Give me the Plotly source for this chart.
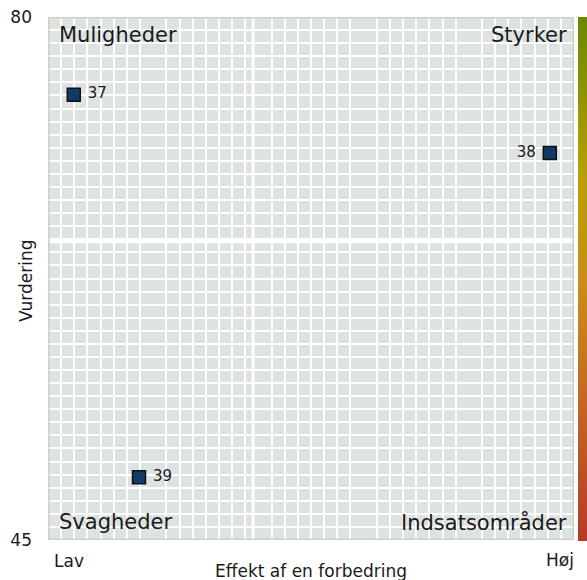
import plotly.graph_objects as go

# Items placed on the effect / rating matrix
item_ids = ["37", "38", "39"]
effect = [4.9, 95.4, 17.3]        # 0 = Lav, 100 = Høj
rating = [74.8, 70.9, 49.2]
label_side = ["middle right", "middle left", "middle right"]

# Axis settings
x_range = [0, 100]
y_range = [45, 80]
y_tick_vals = [45, 80]
x_mid = 39.0
y_mid = 65.0

quadrant_names = ["Muligheder", "Styrker", "Svagheder", "Indsatsområder"]
x_end_labels = ["Lav", "Høj"]
x_title = "Effekt af en forbedring"
y_title = "Vurdering"

# Colour ramp of the side bar, bottom (0) to top (1)
ramp = [[0.0, "#b83a27"], [0.28, "#c46a25"], [0.5, "#c8901a"],
        [0.7, "#b8a000"], [1.0, "#6a8800"]]

FONT = "DejaVu Sans"
TXT = "#1a1a1a"
BG = "#dde3e0"
W, H = 587, 580
ML, MR, MT, MB = 48, 0, 17, 40
PLOT_RIGHT = 574          # right edge of the matrix, in pixels
BAR_LEFT = 578            # left edge of the colour ramp, in pixels
pw = W - ML - MR
ph = H - MT - MB


def px_x(p):
    return (p - ML) / pw


def px_y(p):
    return 1 - (p - MT) / ph


x_dom_end = px_x(PLOT_RIGHT)


def dom_x(p):
    # paper fraction measured against the matrix width only
    return (p - ML) / (PLOT_RIGHT - ML) * x_dom_end


point_text = [(" " + t) if s.endswith("right") else (t + " ")
              for t, s in zip(item_ids, label_side)]

fig = go.Figure()

fig.add_trace(go.Scatter(
    x=effect, y=rating, mode="markers+text",
    text=point_text, textposition=label_side,
    textfont=dict(family=FONT, size=15, color=TXT),
    marker=dict(symbol="square", size=13, color="#123a66",
                line=dict(color="#111111", width=1.5)),
    hoverinfo="skip", showlegend=False, cliponaxis=False,
))

# Vertical colour ramp drawn as a colour bar
fig.add_trace(go.Scatter(
    x=[None], y=[None], mode="markers", showlegend=False, hoverinfo="skip",
    marker=dict(color=[0], cmin=0, cmax=1, colorscale=ramp, showscale=True,
                colorbar=dict(thickness=W - BAR_LEFT, thicknessmode="pixels",
                              len=1.002, lenmode="fraction",
                              x=px_x(BAR_LEFT), xanchor="left", xpad=0,
                              y=0.5, yanchor="middle", ypad=0,
                              outlinewidth=0, showticklabels=False, ticks="")),
))

fig.update_xaxes(domain=[0, x_dom_end], range=x_range,
                 showticklabels=False, ticks="",
                 showgrid=False, zeroline=False, showline=False,
                 minor=dict(tickmode="linear", tick0=0, dtick=2.5,
                            showgrid=True, gridcolor="white", gridwidth=2))
fig.update_yaxes(range=y_range, tickmode="array", tickvals=y_tick_vals,
                 ticks="", ticklabelstandoff=15,
                 tickfont=dict(family=FONT, size=17, color=TXT),
                 showgrid=False, zeroline=False, showline=False,
                 minor=dict(tickmode="linear", tick0=45, dtick=0.875,
                            showgrid=True, gridcolor="white", gridwidth=2))

# Quadrant dividers
fig.add_shape(type="line", xref="x", yref="paper", x0=x_mid, x1=x_mid,
              y0=0, y1=1, line=dict(color="white", width=3), layer="below")
fig.add_shape(type="line", xref="x", yref="y", x0=x_range[0], x1=x_range[1],
              y0=y_mid, y1=y_mid, line=dict(color="white", width=4), layer="below")
# Frame
fig.add_shape(type="rect", xref="x", yref="y",
              x0=x_range[0], x1=x_range[1], y0=y_range[0], y1=y_range[1],
              line=dict(color="#c9d3c9", width=3), layer="above")

ann = []
qfont = dict(family=FONT, size=21, color=TXT)
ann.append(dict(text=quadrant_names[0], x=dom_x(57), y=px_y(35),
                xanchor="left", yanchor="middle", font=qfont))
ann.append(dict(text=quadrant_names[1], x=dom_x(569), y=px_y(35),
                xanchor="right", yanchor="middle", font=qfont))
ann.append(dict(text=quadrant_names[2], x=dom_x(57), y=px_y(522),
                xanchor="left", yanchor="middle", font=qfont))
ann.append(dict(text=quadrant_names[3], x=dom_x(569), y=px_y(522),
                xanchor="right", yanchor="middle", font=qfont))
lfont = dict(family=FONT, size=17, color=TXT)
ann.append(dict(text=x_end_labels[0], x=dom_x(52), y=px_y(561),
                xanchor="left", yanchor="middle", font=lfont))
ann.append(dict(text=x_end_labels[1], x=dom_x(576), y=px_y(560),
                xanchor="right", yanchor="middle", font=lfont))
ann.append(dict(text=x_title, x=dom_x((ML + PLOT_RIGHT) / 2), y=px_y(571),
                xanchor="center", yanchor="middle", font=lfont))
ann.append(dict(text=y_title, x=dom_x(26), y=px_y(281), textangle=-90,
                xanchor="center", yanchor="middle", font=lfont))
for a in ann:
    a.update(xref="paper", yref="paper", showarrow=False)

fig.update_layout(
    width=W, height=H, margin=dict(l=ML, r=MR, t=MT, b=MB, pad=0,
                                   autoexpand=False),
    paper_bgcolor="white", plot_bgcolor=BG,
    annotations=ann, showlegend=False,
)

fig.write_html("out.html")
